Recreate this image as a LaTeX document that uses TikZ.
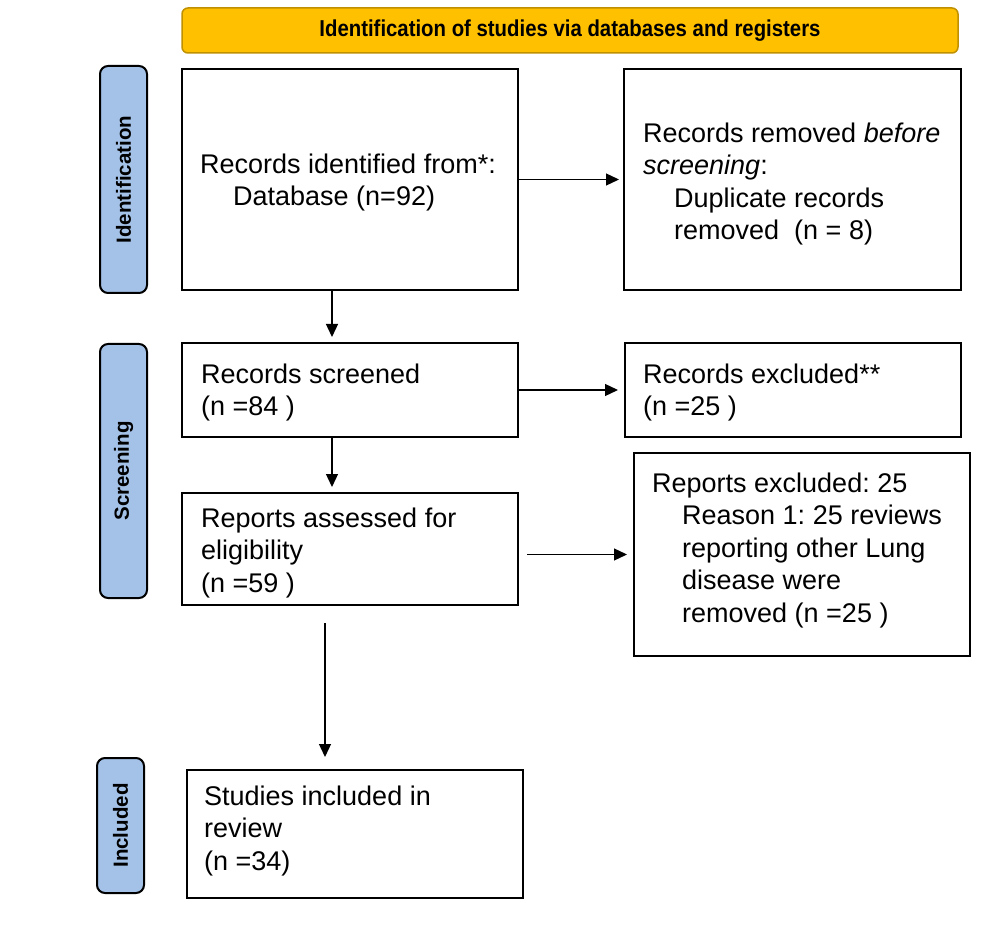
\documentclass[tikz,border=0pt]{standalone}
\usepackage{fontspec}
\setmainfont{Liberation Sans}
\usetikzlibrary{arrows.meta, positioning, calc}
\definecolor{hdgold}{HTML}{FFC000}
\definecolor{hdedge}{HTML}{BF9000}
\definecolor{phblue}{HTML}{A4C2E8}
\frenchspacing

\begin{document}
\begin{tikzpicture}[x=1pt, y=-1pt, >={Triangle[length=13pt, width=12pt]}]

\tikzset{
  box/.style={draw=black, line width=2pt, fill=white, inner sep=0pt, outer sep=0pt},
  sidebar/.style={draw=black, line width=2pt, fill=phblue, rounded corners=8pt,
    rotate=90, inner sep=0pt, minimum height=47pt, font=\fontsize{20.5}{24}\selectfont\bfseries},
  headbar/.style={draw=hdedge, line width=1.5pt, fill=hdgold, rounded corners=6pt,
    minimum width=776pt, minimum height=45pt, font=\fontsize{23}{26}\selectfont\bfseries},
  txt/.style={anchor=north west, align=left, inner sep=0pt, font=\fontsize{27}{32.5}\selectfont},
  arr/.style={->, line width=1.3pt}
}

\useasboundingbox (0,0) rectangle (986,933);

% Header
\node[headbar] (head) at (570,30.5) {\scalebox{0.885}[1]{Identification of studies via databases and registers}};

% Phase bars
\node[sidebar, minimum width=227pt] (phId) at (123.5,179.5) {Identification};
\node[sidebar, minimum width=254pt] (phScr) at (123.5,471) {Screening};
\node[sidebar, minimum width=135pt] (phInc) at (120.5,825.5) {Included};

% Boxes
\node[box, minimum width=336pt, minimum height=221pt] (recId) at (350,179.5) {};
\node[box, minimum width=337pt, minimum height=221pt] (recRem) at (792.5,179.5) {};
\node[box, minimum width=336pt, minimum height=94pt] (recScr) at (350,390) {};
\node[box, minimum width=336pt, minimum height=94pt] (recExc) at (793,390) {};
\node[box, minimum width=336pt, minimum height=112pt] (repAss) at (350,549) {};
\node[box, minimum width=336pt, minimum height=203pt] (repExc) at (802,554.5) {};
\node[box, minimum width=336pt, minimum height=128pt] (stdInc) at (355,834) {};

% Texts
\node[txt] (recIdTxt) at (200,153.3) {Records identified from*:\\\hspace*{33pt}Database (n=92)};
\node[txt] (recRemTxt) at (643,122.3) {Records removed \textit{before}\\\textit{screening}:\\
  \hspace*{31pt}Duplicate records\\\hspace*{31pt}removed\ \ (n = 8)};
\node[txt] (recScrTxt) at (201,363.3) {Records screened\\(n =84 )};
\node[txt] (recExcTxt) at (643,363.3) {Records excluded**\\(n =25 )};
\node[txt] (repAssTxt) at (201,507.3) {Reports assessed for\\eligibility\\(n =59 )};
\node[txt] (repExcTxt) at (652,472.3) {Reports excluded: 25\\\hspace*{30pt}Reason 1: 25 reviews\\
  \hspace*{30pt}reporting other Lung\\\hspace*{30pt}disease were\\\hspace*{30pt}removed (n =25 )};
\node[txt] (stdIncTxt) at (204,785.3) {Studies included in\\review\\(n =34)};

% Arrows
\draw[arr, shorten >=5pt] (recId.east) -- (recRem.west);
\draw[arr, shorten >=6pt] ([xshift=-18pt]recId.south) -- ([xshift=-18pt]recId.south |- recScr.north);
\draw[arr, shorten >=7pt] (recScr.east) -- (recExc.west);
\draw[arr, shorten >=6pt] ([xshift=-18pt]recScr.south) -- ([xshift=-18pt]recScr.south |- repAss.north);
\draw[arr, shorten >=7pt] ([xshift=9pt]repAss.east |- repExc.west) -- (repExc.west);
\draw[arr, shorten >=13pt] ([xshift=-25pt, yshift=-18pt]repAss.south) -- ([xshift=-25pt]repAss.south |- stdInc.north);

\end{tikzpicture}
\end{document}
